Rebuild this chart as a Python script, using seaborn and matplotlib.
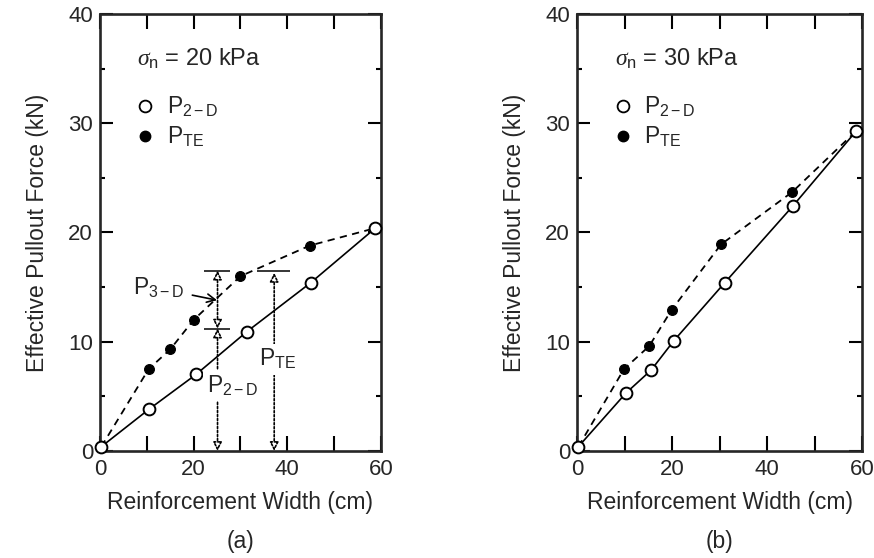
import matplotlib
matplotlib.use('Agg')
import matplotlib.pyplot as plt
from matplotlib.lines import Line2D
import seaborn as sns

# Panel (a): sigma_n = 20 kPa
a_width_2d = [0.3, 10.4, 20.5, 31.3, 45.0, 58.8]
a_force_2d = [0.4, 3.8, 7.0, 10.9, 15.4, 20.4]
a_width_te = [10.4, 15.0, 20.0, 30.0, 44.8]
a_force_te = [7.5, 9.3, 12.0, 16.0, 18.8]

# Panel (b): sigma_n = 30 kPa
b_width_2d = [0.3, 10.3, 15.6, 20.4, 31.1, 45.4, 58.8]
b_force_2d = [0.4, 5.3, 7.4, 10.1, 15.4, 22.4, 29.3]
b_width_te = [9.9, 15.2, 19.9, 30.3, 45.3]
b_force_te = [7.5, 9.6, 12.9, 18.9, 23.7]

x_major = [0, 20, 40, 60]
x_minor = [10, 30, 50]
y_major = [0, 10, 20, 30, 40]
y_minor = [5, 15, 25, 35]

sns.set_style('ticks')
plt.rcParams['font.family'] = ['Liberation Sans', 'DejaVu Sans']
plt.rcParams['mathtext.fontset'] = 'custom'
plt.rcParams['mathtext.rm'] = 'Liberation Sans'
plt.rcParams['mathtext.it'] = 'Liberation Serif:italic'

FS = 16.5


def draw_panel(ax, x2d, y2d, xte, yte, sigma):
    # dashed P_TE line runs from the origin through the filled points to the last open point
    dash_x = [x2d[0]] + xte + [x2d[-1]]
    dash_y = [y2d[0]] + yte + [y2d[-1]]
    sns.lineplot(x=dash_x, y=dash_y, ax=ax, color='black', lw=1.3, sort=False,
                 estimator=None, linestyle=(0, (4.0, 3.0)), zorder=2)
    sns.lineplot(x=x2d, y=y2d, ax=ax, color='black', lw=1.2, sort=False,
                 estimator=None, zorder=2)
    sns.scatterplot(x=xte, y=yte, ax=ax, color='black', s=50, marker='o',
                    edgecolor='black', linewidth=0.8, zorder=3)
    sns.scatterplot(x=x2d, y=y2d, ax=ax, color='white', s=72, marker='o',
                    edgecolor='black', linewidth=1.4, zorder=4, clip_on=False)

    ax.set_xlim(0, 60)
    ax.set_ylim(0, 40)
    ax.set_xticks(x_major)
    ax.set_xticks(x_minor, minor=True)
    ax.set_yticks(y_major)
    ax.set_yticks(y_minor, minor=True)
    for spine in ax.spines.values():
        spine.set_visible(True)
        spine.set_linewidth(1.9)
    ax.tick_params(which='both', direction='in', top=True, right=True,
                   width=1.5, labelsize=16, color='black')
    ax.tick_params(axis='x', which='both', length=11, pad=6)
    ax.tick_params(axis='y', which='major', length=9.5, pad=5)
    ax.tick_params(axis='y', which='minor', length=3.5)
    ax.set_xlabel('Reinforcement Width (cm)', fontsize=FS, labelpad=8)
    ax.set_ylabel('Effective Pullout Force (kN)', fontsize=FS, labelpad=14)

    ax.text(8.0, 35.9, r'$\sigma_{\mathregular{n}}$ = ' + sigma, fontsize=FS + 0.5,
            va='center', ha='left')
    handles = [
        Line2D([], [], ls='none', marker='o', ms=8.5, mfc='white', mec='black', mew=1.3),
        Line2D([], [], ls='none', marker='o', ms=7.5, mfc='black', mec='black'),
    ]
    ax.legend(handles, [r'P$_{\mathregular{2-D}}$', r'P$_{\mathregular{TE}}$'],
              loc='upper left', bbox_to_anchor=(0.12, 0.815), frameon=False,
              fontsize=FS, handlelength=1.0, handletextpad=0.45,
              labelspacing=0.25, borderpad=0, borderaxespad=0)


fig = plt.figure(figsize=(8.74, 5.58), dpi=100)
ax_a = fig.add_axes([0.1144, 0.1918, 0.3215, 0.7832])
ax_b = fig.add_axes([0.6602, 0.1918, 0.3261, 0.7832])

draw_panel(ax_a, a_width_2d, a_force_2d, a_width_te, a_force_te, '20 kPa')
draw_panel(ax_b, b_width_2d, b_force_2d, b_width_te, b_force_te, '30 kPa')

# Explanation of P_2-D, P_3-D and P_TE in panel (a)
dotted = dict(arrowstyle='<|-|>', ls=(0, (1.2, 1.2)), lw=1.2, color='black',
              fc='white', shrinkA=0, shrinkB=0, mutation_scale=13)
ax_a.annotate('', xy=(25.1, 0), xytext=(25.1, 11.2), arrowprops=dotted)
ax_a.annotate('', xy=(25.1, 11.2), xytext=(25.1, 16.5), arrowprops=dotted)
ax_a.annotate('', xy=(37.2, 0), xytext=(37.2, 16.3), arrowprops=dotted)
ax_a.hlines([16.5, 11.2], 22.3, 27.7, color='black', lw=1.1)
ax_a.hlines(16.5, 33.6, 40.6, color='black', lw=1.1)
ax_a.text(28.2, 6.0, r'P$_{\mathregular{2-D}}$', fontsize=FS, ha='center', va='center',
          bbox=dict(boxstyle='square,pad=0.15', fc='white', ec='none'), zorder=5)
ax_a.text(37.9, 8.4, r'P$_{\mathregular{TE}}$', fontsize=FS, ha='center', va='center',
          bbox=dict(boxstyle='square,pad=0.15', fc='white', ec='none'), zorder=5)
ax_a.annotate(r'P$_{\mathregular{3-D}}$', xy=(25.0, 13.8), xytext=(12.4, 14.9),
              fontsize=FS, ha='center', va='center',
              arrowprops=dict(arrowstyle='->', lw=1.2, color='black',
                              shrinkA=4, shrinkB=0, mutation_scale=15))

fig.text(0.1144 + 0.3215 / 2, 0.029, '(a)', fontsize=FS, ha='center', va='center')
fig.text(0.6602 + 0.3261 / 2, 0.029, '(b)', fontsize=FS, ha='center', va='center')

fig.savefig('out.png', dpi=100, facecolor='white')
